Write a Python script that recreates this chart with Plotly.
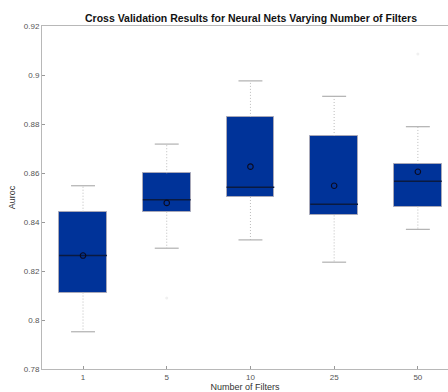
import plotly.graph_objects as go

categories = ["1", "5", "10", "25", "50"]
q1 = [0.8112, 0.8442, 0.8502, 0.8427, 0.8463]
median = [0.8263, 0.8491, 0.8542, 0.8472, 0.8566]
q3 = [0.8442, 0.8599, 0.8829, 0.8751, 0.8637]
lower_whisker = [0.7952, 0.8293, 0.8327, 0.8236, 0.8370]
upper_whisker = [0.8548, 0.8718, 0.8976, 0.8913, 0.8789]
means = [0.8263, 0.8478, 0.8626, 0.8548, 0.8605]
outlier_cat = ["5", "50"]
outlier_val = [0.809, 0.9086]

pos = list(range(len(categories)))
outlier_pos = [categories.index(c) for c in outlier_cat]
BOX_HW = 0.285
CAP_HW = 0.143

def segs(xc, y0, y1, hw):
    xs, ys = [], []
    for x, a, b in zip(xc, y0, y1):
        xs += [x - hw, x + hw, None]
        ys += [a, b, None]
    return xs, ys

def vsegs(xc, y0, y1):
    xs, ys = [], []
    for x, a, b in zip(xc, y0, y1):
        xs += [x, x, None]
        ys += [a, b, None]
    return xs, ys

fig = go.Figure()

# whiskers (dotted)
wx, wy = vsegs(pos + pos, q3 + q1, upper_whisker + lower_whisker)
fig.add_trace(go.Scatter(x=wx, y=wy, mode="lines",
                         line=dict(color="#bdbdbd", width=1, dash="1px,2px"),
                         hoverinfo="skip", showlegend=False))
# caps
cx, cy = segs(pos + pos, upper_whisker + lower_whisker, upper_whisker + lower_whisker, CAP_HW)
fig.add_trace(go.Scatter(x=cx, y=cy, mode="lines",
                         line=dict(color="#b0b0b0", width=1.2),
                         hoverinfo="skip", showlegend=False))
# boxes
fig.add_trace(go.Bar(x=pos, base=q1, y=[b - a for a, b in zip(q1, q3)],
                     width=2 * BOX_HW,
                     marker=dict(color="#003399", line=dict(color="#a8a8b8", width=1)),
                     showlegend=False))
# medians
mx, my = segs(pos, median, median, BOX_HW)
fig.add_trace(go.Scatter(x=mx, y=my, mode="lines",
                         line=dict(color="#0a1a40", width=1.5),
                         hoverinfo="skip", showlegend=False))
# means
fig.add_trace(go.Scatter(x=pos, y=means, mode="markers",
                         marker=dict(symbol="circle-open", size=5.5, color="#0a0a20",
                                     line=dict(width=1.1, color="#0a0a20")),
                         showlegend=False))
# outliers (very faint)
fig.add_trace(go.Scatter(x=outlier_pos, y=outlier_val, mode="markers",
                         marker=dict(size=3, color="#f0f0f0"),
                         showlegend=False))

fig.update_layout(
    width=448, height=392,
    margin=dict(l=42, r=0, t=26, b=23),
    paper_bgcolor="white", plot_bgcolor="white",
    font=dict(family="Liberation Sans, Arial, sans-serif", color="#444"),
    title=dict(text="<b>Cross Validation Results for Neural Nets Varying Number of Filters</b>",
               x=(42 + 460) / 2 / 448, xanchor="center",
               y=1 - 18 / 392, yanchor="middle", yref="container",
               font=dict(size=10.5, color="#111")),
    bargap=0,
)
fig.update_xaxes(
    range=[-0.49, 4.36], tickvals=pos, ticktext=categories,
    showgrid=False, zeroline=False,
    showline=True, linecolor="#b8b8b8", linewidth=1, mirror=True,
    ticks="inside", ticklen=3, tickcolor="#999",
    tickfont=dict(size=8, color="#555"),
    title=dict(text="Number of Filters", font=dict(size=9, color="#333"), standoff=2),
)
fig.update_yaxes(
    range=[0.78, 0.92], tickvals=[0.78, 0.8, 0.82, 0.84, 0.86, 0.88, 0.9, 0.92],
    ticktext=["0.78", "0.8", "0.82", "0.84", "0.86", "0.88", "0.9", "0.92"],
    showgrid=False, zeroline=False,
    showline=True, linecolor="#b8b8b8", linewidth=1,
    ticks="inside", ticklen=3, tickcolor="#999",
    tickfont=dict(size=8, color="#555"),
    title=dict(text="Auroc", font=dict(size=9, color="#333"), standoff=6),
)

fig.write_html("out.html")
